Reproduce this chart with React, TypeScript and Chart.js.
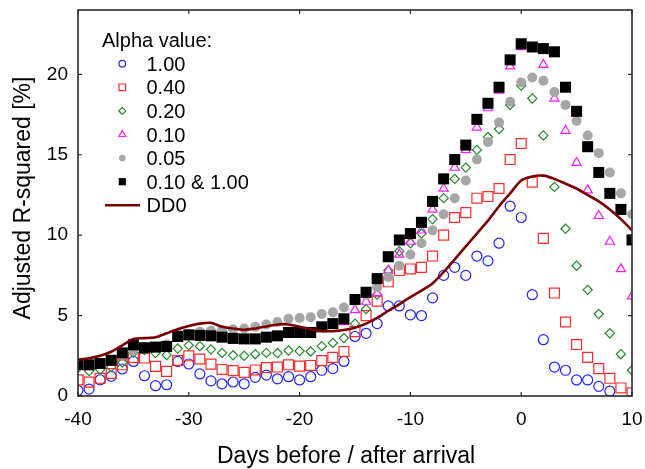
import React, { useEffect, useRef } from 'react';
import { Chart, registerables } from 'chart.js';

Chart.register(...registerables);

const days = [-40, -39, -38, -37, -36, -35, -34, -33, -32, -31, -30, -29, -28, -27, -26, -25, -24, -23, -22, -21, -20, -19, -18, -17, -16, -15, -14, -13, -12, -11, -10, -9, -8, -7, -6, -5, -4, -3, -2, -1, 0, 1, 2, 3, 4, 5, 6, 7, 8, 9, 10];

const alpha100 = [0.35, 0.43, 1.01, 1.22, 1.68, 2.15, 1.26, 0.64, 0.7, 2.15, 1.99, 1.37, 0.94, 0.76, 0.87, 0.76, 1.16, 1.3, 1.07, 1.2, 1.0, 1.2, 1.6, 1.7, 2.15, 3.7, 3.9, 4.5, 5.6, 5.6, 5.05, 5.0, 6.1, 7.5, 8.0, 7.5, 8.7, 8.4, 9.5, 11.8, 11.1, 6.3, 3.5, 1.8, 1.6, 1.0, 1.0, 0.6, 0.3, null, null];
const alpha040 = [1.0, 0.86, 1.1, 1.4, 1.94, 2.4, 2.36, 1.84, 1.53, 2.21, 2.5, 2.3, 1.98, 1.65, 1.58, 1.47, 1.62, 1.77, 1.8, 1.94, 1.86, 1.9, 2.2, 2.4, 2.77, 4.0, 5.0, 5.9, 7.1, 7.8, 7.9, 8.0, 8.7, 10.0, 11.1, 11.4, 12.3, 12.4, 12.9, 14.7, 15.7, 13.3, 9.8, 6.4, 4.6, 3.2, 2.4, 1.7, 1.1, 0.5, 0.2];
const alpha020 = [1.75, 1.55, 1.65, 1.8, 2.08, 2.7, 2.85, 2.67, 2.55, 2.95, 3.15, 3.1, 2.9, 2.68, 2.53, 2.5, 2.6, 2.68, 2.67, 2.83, 2.8, 2.77, 3.1, 3.3, 3.6, 4.5, 5.4, 6.3, 7.8, 9.0, 9.5, 10.1, 11.0, 12.3, 13.5, 14.2, 15.3, 16.1, 16.6, 18.1, 19.3, 18.5, 16.2, 13.0, 10.4, 8.1, 6.6, 5.1, 3.9, 2.6, 1.6];
const alpha010 = [1.85, 1.85, 1.9, 2.1, 2.5, 3.05, 2.9, 2.95, 3.0, 3.6, 3.7, 3.7, 3.65, 3.55, 3.5, 3.45, 3.45, 3.55, 3.65, 3.85, 3.85, 3.85, 4.2, 4.4, 4.6, 5.35, 5.87, 6.4, 7.8, 8.8, 9.6, 10.3, 11.6, 12.9, 14.2, 15.3, 16.7, 17.9, 19.0, 20.5, 21.7, 21.6, 20.6, 18.5, 16.5, 14.5, 12.8, 11.2, 9.6, 7.9, 6.2];
const alpha005 = [2.0, 1.95, 2.05, 2.2, 2.55, 2.85, 3.0, 3.05, 3.2, 3.9, 3.85, 4.0, 4.05, 4.1, 4.15, 4.2, 4.3, 4.45, 4.6, 4.8, 4.85, 4.9, 5.1, 5.2, 5.5, 5.9, 6.3, 6.76, 7.4, 8.1, 8.8, 9.5, 10.3, 11.3, 12.3, 13.4, 14.7, 15.8, 17.0, 18.3, 19.5, 19.8, 19.6, 18.9, 18.1, 17.1, 16.2, 15.1, 13.9, 12.6, 11.3];
const alpha010and100 = [1.95, 1.94, 2.02, 2.22, 2.68, 3.18, 3.0, 3.04, 3.08, 3.7, 3.8, 3.77, 3.74, 3.66, 3.58, 3.55, 3.55, 3.66, 3.74, 3.95, 3.95, 3.95, 4.3, 4.5, 4.8, 6.0, 6.45, 7.3, 8.66, 9.7, 10.1, 10.8, 12.1, 13.5, 14.7, 15.6, 17.2, 18.2, 19.2, 20.9, 21.9, 21.7, 21.6, 21.4, 19.2, 17.7, 15.5, 13.9, 12.6, 11.6, 9.7];
const dd0 = [2.25, 2.35, 2.5, 2.75, 3.15, 3.55, 3.6, 3.65, 3.9, 4.15, 4.35, 4.5, 4.55, 4.3, 4.2, 4.12, 4.2, 4.32, 4.45, 4.45, 4.3, 4.15, 4.05, 4.03, 4.1, 4.25, 4.5, 4.85, 5.3, 5.7, 6.15, 6.55, 7.0, 7.7, 8.5, 9.3, 10.1, 10.9, 11.8, 12.6, 13.4, 13.65, 13.7, 13.5, 13.2, 12.9, 12.5, 12.1, 11.6, 11.0, 10.3];

const seriesLabels = ['1.00', '0.40', '0.20', '0.10', '0.05', '0.10 & 1.00', 'DD0'];
const legendTitle = 'Alpha value:';
const xTicks = [-40, -30, -20, -10, 0, 10];
const yTicks = [0, 5, 10, 15, 20];
const xTitle = 'Days before / after arrival';
const yTitle = 'Adjusted R-squared [%]';

const FONT = '"Liberation Sans", Arial, Helvetica, sans-serif';
const BLUE = '#2323ff';
const RED = '#ff2b2b';
const GREEN = '#26892a';
const MAGENTA = '#ff1aff';
const GRAY = '#a6a6a6';
const BLACK = '#000000';
const MAROON = '#7a0000';

type Shape = 'circle' | 'rect' | 'rectRot' | 'triangle' | 'line';

const styles: { shape: Shape; color: string; fill: boolean; radius: number; legendSize: number }[] = [
  { shape: 'circle', color: BLUE, fill: false, radius: 5, legendSize: 3.3 },
  { shape: 'rect', color: RED, fill: false, radius: 7.0, legendSize: 3.3 },
  { shape: 'rectRot', color: GREEN, fill: false, radius: 4.6, legendSize: 3.5 },
  { shape: 'triangle', color: MAGENTA, fill: false, radius: 5.3, legendSize: 4.0 },
  { shape: 'circle', color: GRAY, fill: true, radius: 5, legendSize: 3.3 },
  { shape: 'rect', color: BLACK, fill: true, radius: 7.8, legendSize: 3.6 },
  { shape: 'line', color: MAROON, fill: false, radius: 0, legendSize: 0 },
];

const seriesValues = [alpha100, alpha040, alpha020, alpha010, alpha005, alpha010and100, dd0];

function toPoints(vals: (number | null)[]) {
  const pts: { x: number; y: number }[] = [];
  days.forEach((d, i) => {
    const v = vals[i];
    if (v !== null && v !== undefined) pts.push({ x: d, y: v });
  });
  return pts;
}

function drawMarker(ctx: CanvasRenderingContext2D, shape: Shape, x: number, y: number, s: number, color: string, fill: boolean) {
  ctx.save();
  ctx.strokeStyle = color;
  ctx.fillStyle = color;
  ctx.lineWidth = 1.2;
  ctx.beginPath();
  if (shape === 'circle') {
    ctx.arc(x, y, s, 0, Math.PI * 2);
  } else if (shape === 'rect') {
    ctx.rect(x - s, y - s, 2 * s, 2 * s);
  } else if (shape === 'rectRot') {
    ctx.moveTo(x - s, y);
    ctx.lineTo(x, y - s);
    ctx.lineTo(x + s, y);
    ctx.lineTo(x, y + s);
    ctx.closePath();
  } else if (shape === 'triangle') {
    const h = s * 0.866;
    ctx.moveTo(x, y - s);
    ctx.lineTo(x + h, y + s * 0.5);
    ctx.lineTo(x - h, y + s * 0.5);
    ctx.closePath();
  }
  if (fill) ctx.fill();
  else ctx.stroke();
  ctx.restore();
}

const framePlugin = {
  id: 'frameAndLegend',
  afterDatasetsDraw(chart: any) {
    const ctx: CanvasRenderingContext2D = chart.ctx;
    const { left, right, top, bottom } = chart.chartArea;
    const xs = chart.scales.x;
    const ys = chart.scales.y;
    ctx.save();
    ctx.strokeStyle = '#2a2a2a';
    ctx.lineWidth = 1.6;
    ctx.strokeRect(left, top, right - left, bottom - top);
    ctx.lineWidth = 1.2;
    ctx.beginPath();
    const tl = 4;
    xTicks.forEach((v) => {
      const px = xs.getPixelForValue(v);
      ctx.moveTo(px, bottom);
      ctx.lineTo(px, bottom - tl);
      ctx.moveTo(px, top);
      ctx.lineTo(px, top + tl);
    });
    yTicks.forEach((v) => {
      const py = ys.getPixelForValue(v);
      ctx.moveTo(left, py);
      ctx.lineTo(left + tl, py);
      ctx.moveTo(right, py);
      ctx.lineTo(right - tl, py);
    });
    ctx.stroke();
    ctx.restore();
  },
  afterDraw(chart: any) {
    const ctx: CanvasRenderingContext2D = chart.ctx;
    ctx.save();
    ctx.fillStyle = '#000';
    ctx.font = `23px ${FONT}`;
    ctx.textBaseline = 'alphabetic';
    ctx.textAlign = 'left';
    ctx.fillText(xTitle, 217, 463);
    ctx.save();
    ctx.translate(30, 198);
    ctx.rotate(-Math.PI / 2);
    ctx.textAlign = 'center';
    ctx.fillText(yTitle, 0, 0);
    ctx.restore();
    ctx.font = `20px ${FONT}`;
    ctx.textAlign = 'left';
    ctx.fillText(legendTitle, 102, 47);
    const rowH = 23.6;
    seriesLabels.forEach((lab, i) => {
      const base = 70.7 + i * rowH;
      const st = styles[i];
      const my = base - 7;
      if (st.shape === 'line') {
        ctx.save();
        ctx.strokeStyle = st.color;
        ctx.lineWidth = 2.6;
        ctx.beginPath();
        ctx.moveTo(105, my);
        ctx.lineTo(140, my);
        ctx.stroke();
        ctx.restore();
      } else {
        drawMarker(ctx, st.shape, 122.3, my, st.legendSize, st.color, st.fill);
      }
      ctx.fillStyle = '#000';
      ctx.fillText(lab, 146.5, base);
    });
    ctx.restore();
  },
};

function zeroPad(s: any) {
  s.paddingTop = 0;
  s.paddingBottom = 0;
  s.paddingLeft = 0;
  s.paddingRight = 0;
}

export default function App() {
  const ref = useRef<HTMLCanvasElement | null>(null);

  useEffect(() => {
    if (!ref.current) return;
    const order = [6, 5, 4, 3, 2, 1, 0];
    const datasets: any[] = seriesLabels.map((label, i) => {
      const st = styles[i];
      if (st.shape === 'line') {
        return {
          label,
          data: toPoints(seriesValues[i]),
          showLine: true,
          borderColor: st.color,
          borderWidth: 2.6,
          pointRadius: 0,
          tension: 0.25,
          order: order[i],
        };
      }
      return {
        label,
        data: toPoints(seriesValues[i]),
        showLine: false,
        pointStyle: st.shape,
        pointRadius: st.radius,
        pointHoverRadius: st.radius,
        pointBorderWidth: st.fill ? 0 : 1.2,
        pointBorderColor: st.color,
        pointBackgroundColor: st.fill ? st.color : 'rgba(0,0,0,0)',
        order: order[i],
      };
    });

    const tickFont = { family: FONT, size: 19 };
    const chart = new Chart(ref.current, {
      type: 'scatter',
      data: { datasets },
      options: {
        animation: false,
        responsive: false,
        maintainAspectRatio: false,
        layout: { padding: { left: 0, right: 13, top: 10, bottom: 0 } },
        plugins: { legend: { display: false }, tooltip: { enabled: false } },
        scales: {
          x: {
            type: 'linear',
            min: -40,
            max: 10,
            afterBuildTicks: (s: any) => {
              s.ticks = xTicks.map((v) => ({ value: v }));
            },
            afterFit: (s: any) => {
              s.height = 73;
              zeroPad(s);
            },
            grid: { display: false, drawTicks: false, tickLength: 0 },
            border: { display: false },
            ticks: { font: tickFont, color: '#000', padding: 12, maxRotation: 0 },
          },
          y: {
            type: 'linear',
            min: 0,
            max: 24,
            afterBuildTicks: (s: any) => {
              s.ticks = yTicks.map((v) => ({ value: v }));
            },
            afterFit: (s: any) => {
              s.width = 78;
              zeroPad(s);
            },
            grid: { display: false, drawTicks: false, tickLength: 0 },
            border: { display: false },
            ticks: { font: tickFont, color: '#000', padding: 10 },
          },
        },
      } as any,
      plugins: [framePlugin as any],
    });
    return () => chart.destroy();
  }, []);

  return (
    <div style={{ position: 'fixed', left: 0, top: 0, width: 645, height: 469, background: '#fff' }}>
      <canvas ref={ref} width={645} height={469} style={{ width: 645, height: 469, display: 'block' }} />
    </div>
  );
}
